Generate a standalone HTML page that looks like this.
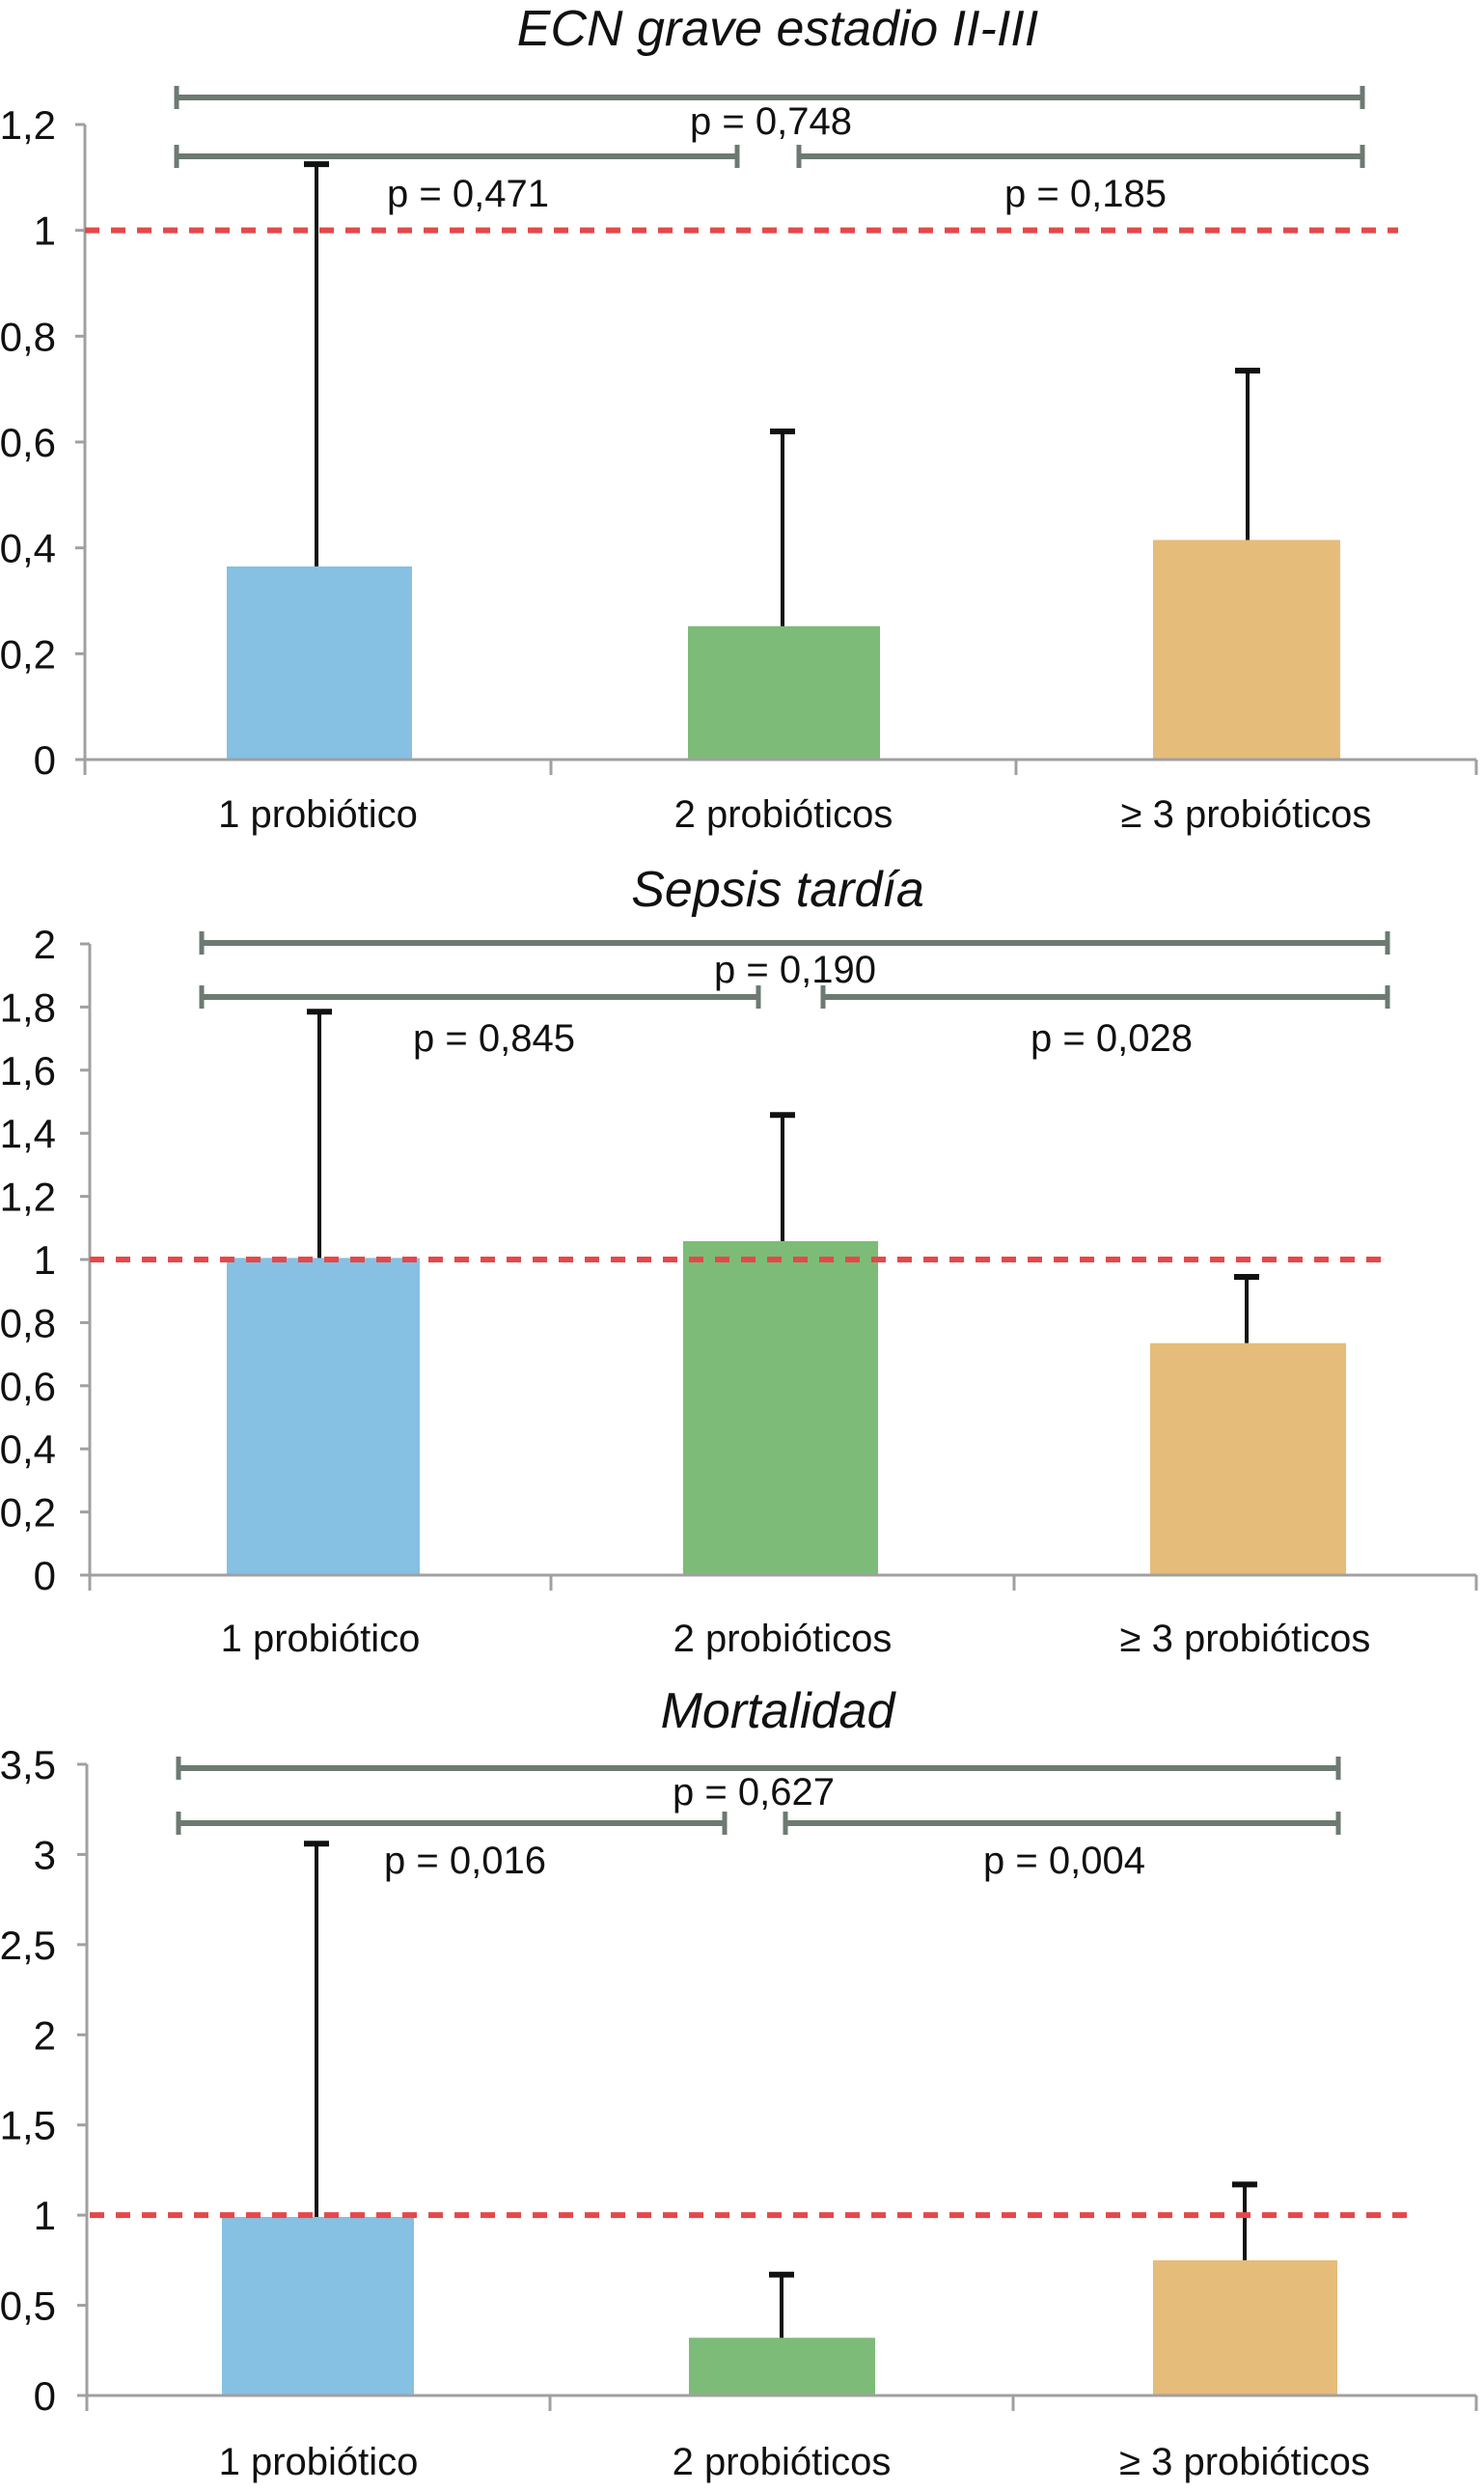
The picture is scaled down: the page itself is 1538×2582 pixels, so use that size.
<!DOCTYPE html>
<html><head><meta charset="utf-8"><style>
html,body{margin:0;padding:0;background:#fff;}
svg{display:block;font-family:"Liberation Sans",Arial,sans-serif;}
</style></head><body>
<svg id="fig" width="1538" height="2582" viewBox="0 0 1538 2582" xmlns="http://www.w3.org/2000/svg"></svg>
<script>
const categories = ["1 probiótico", "2 probióticos", "≥ 3 probióticos"];
const titles = ["ECN grave estadio II-III", "Sepsis tardía", "Mortalidad"];
const valuesECN = [0.365, 0.252, 0.415];
const errorsECN = [1.125, 0.62, 0.735];
const valuesSepsis = [1.005, 1.058, 0.735];
const errorsSepsis = [1.785, 1.458, 0.945];
const valuesMort = [0.99, 0.32, 0.75];
const errorsMort = [3.06, 0.67, 1.17];
const ticksECN = [0, 0.2, 0.4, 0.6, 0.8, 1, 1.2];
const ticksSepsis = [0, 0.2, 0.4, 0.6, 0.8, 1, 1.2, 1.4, 1.6, 1.8, 2];
const ticksMort = [0, 0.5, 1, 1.5, 2, 2.5, 3, 3.5];
const pECN = ["p = 0,748", "p = 0,471", "p = 0,185"];
const pSepsis = ["p = 0,190", "p = 0,845", "p = 0,028"];
const pMort = ["p = 0,627", "p = 0,016", "p = 0,004"];
const refValue = 1;

const NS = "http://www.w3.org/2000/svg";
const svg = document.getElementById("fig");
function mk(tag, attrs, parent, text){
  const e = document.createElementNS(NS, tag);
  for (const k in attrs) e.setAttribute(k, attrs[k]);
  if (text !== undefined) e.textContent = text;
  (parent || svg).appendChild(e);
  return e;
}
const barColors = ["#86c0e2", "#7dbb78", "#e6bc7a"];
const layout = [
  {y0:787, yTop:129, axisX:88, catTicks:[88,571,1053,1530], bars:[[235,427],[713,912],[1195,1389]], errX:[328,811,1293],
   redX:[88,1449], titleX:806, titleY:47, br:{top:101, low:162, x1:183, x2:764, x3:828, x4:1412, l0:[799,139], l1:[485,214], l2:[1125,214]}, catY:857},
  {y0:1632, yTop:978, axisX:93, catTicks:[93,571,1051,1530], bars:[[235,435],[708,910],[1192,1395]], errX:[331,811,1292],
   redX:[93,1441], titleX:806, titleY:939, br:{top:977, low:1033, x1:209, x2:786, x3:853, x4:1438, l0:[824,1018], l1:[512,1089], l2:[1152,1089]}, catY:1711},
  {y0:2482, yTop:1828, axisX:90, catTicks:[90,570,1050,1530], bars:[[230,429],[714,907],[1195,1386]], errX:[328,810,1290],
   redX:[93,1458], titleX:806, titleY:1790, br:{top:1832, low:1889, x1:185, x2:751, x3:814, x4:1387, l0:[781,1870], l1:[482,1941], l2:[1103,1941]}, catY:2564}
];
const datasets = [
  {vals:valuesECN, errs:errorsECN, ticks:ticksECN, p:pECN, name:"ecn"},
  {vals:valuesSepsis, errs:errorsSepsis, ticks:ticksSepsis, p:pSepsis, name:"sepsis"},
  {vals:valuesMort, errs:errorsMort, ticks:ticksMort, p:pMort, name:"mortalidad"}
];

datasets.forEach((d, ci) => {
  const L = layout[ci];
  const maxT = d.ticks[d.ticks.length - 1];
  const yScale = v => L.y0 - (v / maxT) * (L.y0 - L.yTop);
  const g = mk("g", {});
  
  

  const t = mk("text", {x:L.titleX, y:L.titleY, "text-anchor":"middle", "font-size":52, "font-style":"italic", fill:"#111"}, g, titles[ci]);
  
  

  const ya = mk("line", {x1:L.axisX, y1:L.y0, x2:L.axisX, y2:yScale(maxT), stroke:"#a0a0a0", "stroke-width":3}, g);
  
  
  d.ticks.forEach(tv => {
    const y = yScale(tv);
    mk("line", {x1:L.axisX - 10, y1:y, x2:L.axisX, y2:y, stroke:"#a0a0a0", "stroke-width":3}, g);
    const lab = mk("text", {x:58, y:y + 15, "text-anchor":"end", "font-size":42, fill:"#111"}, g, String(tv).replace(".", ","));
    
    
  });

  d.vals.forEach((v, i) => {
    const b = L.bars[i];
    const r = mk("rect", {x:b[0], y:yScale(v), width:b[1] - b[0], height:L.y0 - yScale(v), fill:barColors[i]}, g);
    
    
  });

  const xa = mk("line", {x1:L.axisX, y1:L.y0, x2:L.catTicks[3], y2:L.y0, stroke:"#a0a0a0", "stroke-width":3}, g);
  
  
  L.catTicks.forEach(x => mk("line", {x1:x, y1:L.y0, x2:x, y2:L.y0 + 16, stroke:"#a0a0a0", "stroke-width":3}, g));
  categories.forEach((c, i) => {
    const cx = (L.catTicks[i] + L.catTicks[i + 1]) / 2;
    const lab = mk("text", {x:cx, y:L.catY, "text-anchor":"middle", "font-size":40, fill:"#111"}, g, c);
    
    
  });

  d.errs.forEach((e, i) => {
    const x = L.errX[i];
    const eg = mk("g", {}, g);
    
    
    mk("line", {x1:x, y1:yScale(d.vals[i]), x2:x, y2:yScale(e), stroke:"#111", "stroke-width":4}, eg);
    mk("line", {x1:x - 13, y1:yScale(e), x2:x + 13, y2:yScale(e), stroke:"#111", "stroke-width":6}, eg);
  });

  const rl = mk("line", {x1:L.redX[0], y1:yScale(refValue), x2:L.redX[1], y2:yScale(refValue), stroke:"#e5484a", "stroke-width":6, "stroke-dasharray":"15 12"}, g);
  
  

  const B = L.br;
  const segs = [[B.x1, B.x4, B.top], [B.x1, B.x2, B.low], [B.x3, B.x4, B.low]];
  segs.forEach((s, k) => {
    const bg = mk("g", {}, g);
    
    
    mk("line", {x1:s[0], y1:s[2], x2:s[1], y2:s[2], stroke:"#6c7a71", "stroke-width":6}, bg);
    mk("line", {x1:s[0], y1:s[2] - 12, x2:s[0], y2:s[2] + 12, stroke:"#6c7a71", "stroke-width":5}, bg);
    mk("line", {x1:s[1], y1:s[2] - 12, x2:s[1], y2:s[2] + 12, stroke:"#6c7a71", "stroke-width":5}, bg);
  });
  [B.l0, B.l1, B.l2].forEach((pos, k) => {
    const pl = mk("text", {x:pos[0], y:pos[1], "text-anchor":"middle", "font-size":40, fill:"#111"}, g, d.p[k]);
    
    
  });
});
</script>
</body></html>
